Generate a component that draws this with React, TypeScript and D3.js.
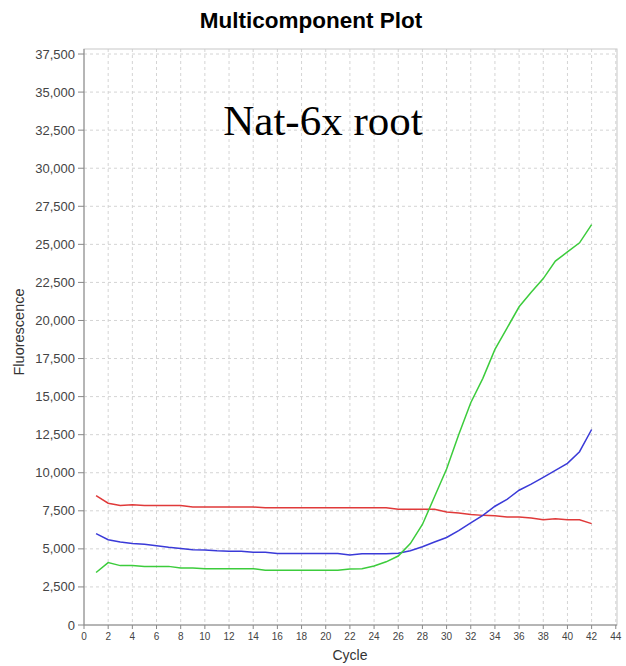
import React from "react";
import * as d3 from "d3";

const cycles = d3.range(1, 43);
const redValues = [8500, 8000, 7850, 7900, 7850, 7850, 7850, 7850, 7750, 7750, 7750, 7750, 7750, 7750, 7700, 7700, 7700, 7700, 7700, 7700, 7700, 7700, 7700, 7700, 7700, 7600, 7600, 7600, 7600, 7420, 7350, 7260, 7200, 7170, 7100, 7100, 7020, 6910, 6980, 6910, 6910, 6660];
const blueValues = [6000, 5600, 5450, 5350, 5300, 5200, 5100, 5030, 4950, 4930, 4870, 4850, 4850, 4780, 4770, 4700, 4700, 4700, 4700, 4700, 4700, 4600, 4680, 4680, 4680, 4720, 4880, 5140, 5450, 5750, 6200, 6700, 7200, 7800, 8250, 8850, 9250, 9690, 10150, 10620, 11380, 12840];
const greenValues = [3450, 4100, 3900, 3900, 3850, 3850, 3850, 3750, 3750, 3700, 3700, 3700, 3700, 3700, 3600, 3600, 3600, 3600, 3600, 3600, 3600, 3680, 3700, 3870, 4150, 4530, 5350, 6600, 8420, 10250, 12500, 14600, 16200, 18100, 19500, 20900, 21850, 22750, 23900, 24500, 25100, 26300];
const xTicks = d3.range(0, 46, 2);
const yTicks = d3.range(0, 37501, 2500);
const series = [
  { name: "red", values: redValues, color: "#e03a3a" },
  { name: "blue", values: blueValues, color: "#3a3ad8" },
  { name: "green", values: greenValues, color: "#3ccc3c" },
];

export default function App() {
  const W = 626, H = 666;
  const x = d3.scaleLinear().domain([0, 44.1]).range([84, 617]);
  const y = d3.scaleLinear().domain([0, 37830]).range([625, 49]);
  const fmt = d3.format(",");
  const line = (vals: number[]) =>
    d3.line<number>().x((_, i) => x(cycles[i])).y((v) => y(v))(vals) || "";
  const font = "'Liberation Sans', Arial, sans-serif";
  return (
    <svg width={W} height={H} style={{ position: "absolute", left: 0, top: 0, background: "#fff" }}>
      <rect x={0} y={0} width={W} height={H} fill="#fff" />
      <text x={311} y={28} textAnchor="middle" fontFamily={font} fontWeight="bold" fontSize={22.5} fill="#000">
        Multicomponent Plot
      </text>
      {/* grid */}
      {xTicks.filter((t) => t > 0).map((t) => (
        <line key={"gx" + t} x1={x(t)} x2={x(t)} y1={y.range()[1]} y2={625} stroke="#d4d4d4" strokeDasharray="3,3" strokeWidth={1} />
      ))}
      {yTicks.filter((t) => t > 0).map((t) => (
        <line key={"gy" + t} x1={84} x2={617} y1={y(t)} y2={y(t)} stroke="#d4d4d4" strokeDasharray="3,3" strokeWidth={1} />
      ))}
      {/* frame */}
      <rect x={84} y={49} width={617 - 84} height={625 - 49} fill="none" stroke="#c8c8c8" strokeWidth={1} />
      <line x1={84} x2={84} y1={49} y2={625} stroke="#888" />
      <line x1={84} x2={617} y1={625} y2={625} stroke="#888" />
      {/* y ticks */}
      {yTicks.map((t) => (
        <g key={"yt" + t}>
          <line x1={78} x2={84} y1={y(t)} y2={y(t)} stroke="#888" />
          <text x={75} y={y(t) + 4.5} textAnchor="end" fontFamily={font} fontSize={13} fill="#444">
            {fmt(t)}
          </text>
        </g>
      ))}
      {/* x ticks */}
      {xTicks.map((t) => (
        <g key={"xt" + t}>
          <line x1={x(t)} x2={x(t)} y1={625} y2={629} stroke="#888" />
          <text x={x(t)} y={640} textAnchor="middle" fontFamily={font} fontSize={10} fill="#444">
            {t}
          </text>
        </g>
      ))}
      <text x={350} y={660} textAnchor="middle" fontFamily={font} fontSize={14} fill="#333">
        Cycle
      </text>
      <text transform={`translate(24,332) rotate(-90)`} textAnchor="middle" fontFamily={font} fontSize={14.5} fill="#333">
        Fluorescence
      </text>
      <text x={323} y={135} textAnchor="middle" fontFamily="'Liberation Serif', 'Times New Roman', serif" fontSize={43} fill="#000">
        Nat-6x root
      </text>
      {series.map((s) => (
        <path key={s.name} d={line(s.values)} fill="none" stroke={s.color} strokeWidth={1.5} />
      ))}
    </svg>
  );
}
